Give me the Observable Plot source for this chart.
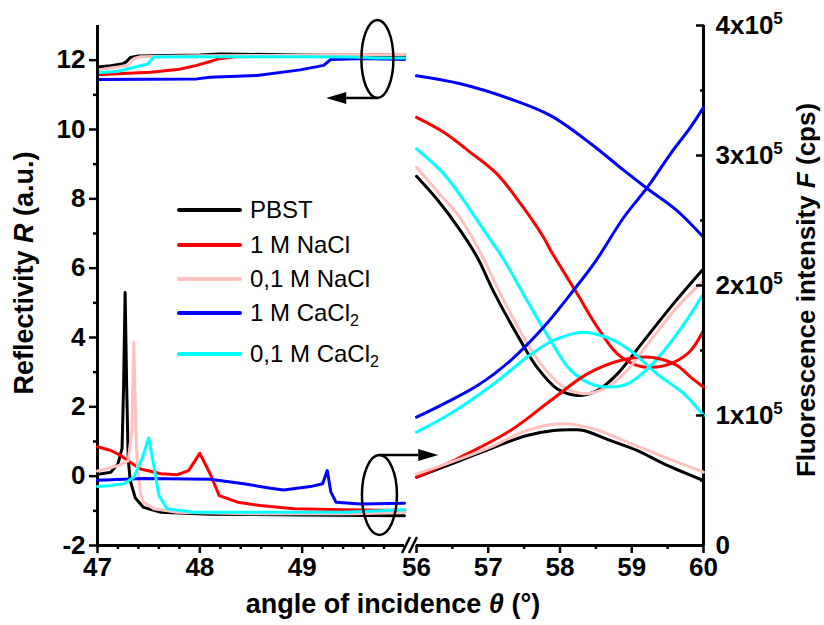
<!DOCTYPE html>
<html><head><meta charset="utf-8">
<script src="https://cdn.jsdelivr.net/npm/d3@7"></script>
<script src="https://cdn.jsdelivr.net/npm/@observablehq/plot@0.6"></script>
<style>
body{margin:0;background:#fff;}
#chart{position:relative;width:824px;height:625px;font-family:"Liberation Sans",Arial,sans-serif;background:#fff;overflow:hidden;}
#chart svg{position:absolute;left:0;top:0;}
.lg-row{position:absolute;left:177px;height:30px;display:flex;align-items:center;font-size:24px;color:#000;white-space:nowrap;}
.lg-sw{width:65px;height:4px;border-radius:2px;margin-right:8px;}
.lg-row sub{font-size:16px;vertical-align:-5px;line-height:0;}
</style></head><body><div id="chart"></div>
<script>
// ---------- series ----------
const seriesNames = ["PBST", "1 M NaCl", "0,1 M NaCl", "1 M CaCl2", "0,1 M CaCl2"];
const seriesLabels = ["PBST", "1 M NaCl", "0,1 M NaCl", "1 M CaCl<sub>2</sub>", "0,1 M CaCl<sub>2</sub>"];
const seriesColors = ["#000000", "#ff0000", "#ffc0c0", "#0000ff", "#00ffff"];

// ---------- ticks ----------
const xTicks = [47, 48, 49, 56, 57, 58, 59, 60];
const xMinorTicks = [47.2, 47.4, 47.6, 47.8, 48.2, 48.4, 48.6, 48.8, 49.2, 49.4, 49.6, 49.8, 56.5, 57.5, 58.5, 59.5];
const rTicks = [-2, 0, 2, 4, 6, 8, 10, 12];
const rMinorTicks = [-1, 1, 3, 5, 7, 9, 11];
const fTicks = [0, 100000, 200000, 300000, 400000];
const fMinorTicks = [50000, 150000, 250000, 350000];
const xBreakDomain = [47, 50, 56, 60];
const axisSegments = [[47, 50], [56, 60]];

// ---------- reflectivity R (a.u.), left panel ----------
const reflLeftPBST = [[47.0,11.8],[47.13,11.84],[47.25,11.9],[47.28,11.95],[47.32,12.08],[47.4,12.12],[48.0,12.15],[48.2,12.18],[49.0,12.15],[50.0,12.12]];
const reflLeftNaCl1 = [[47.0,11.58],[47.3,11.62],[47.52,11.65],[47.8,11.74],[47.97,11.85],[48.1,11.96],[48.17,12.03],[48.35,12.1],[49.0,12.13],[50.0,12.16]];
const reflLeftNaCl01 = [[47.0,11.72],[47.2,11.8],[47.3,11.86],[47.36,12.05],[47.42,12.1],[48.0,12.13],[49.0,12.14],[50.0,12.16]];
const reflLeftCaCl1 = [[47.0,11.44],[47.5,11.45],[47.97,11.46],[48.1,11.51],[48.56,11.56],[48.98,11.72],[49.21,11.85],[49.28,12.02],[49.6,12.05],[50.0,12.02]];
const reflLeftCaCl01 = [[47.0,11.64],[47.2,11.68],[47.49,11.89],[47.55,12.09],[48.0,12.1],[49.0,12.1],[49.5,12.09],[49.7,12.06],[50.0,12.06]];

// ---------- reflectivity R (a.u.), right panel ----------
const reflRightPBST = [[56.0,8.65],[56.3,7.95],[56.6,7.12],[56.85,6.3],[57.08,5.3],[57.45,3.91],[57.68,3.14],[57.96,2.52],[58.24,2.33],[58.52,2.47],[58.8,2.95],[59.17,3.91],[59.54,4.87],[60.0,5.98]];
const reflRightNaCl1 = [[56.0,10.35],[56.38,9.92],[56.75,9.34],[57.12,8.72],[57.45,7.86],[57.77,6.89],[57.87,6.51],[58.24,5.26],[58.52,4.3],[58.8,3.53],[59.08,3.19],[59.31,3.14],[59.59,3.29],[59.82,3.62],[60.0,4.2]];
const reflRightNaCl01 = [[56.0,8.91],[56.3,8.19],[56.6,7.47],[56.9,6.41],[57.17,5.26],[57.52,3.91],[57.75,3.19],[58.05,2.57],[58.33,2.38],[58.61,2.52],[58.89,2.95],[59.26,3.91],[59.63,4.87],[60.0,5.64]];
const reflRightCaCl1 = [[56.0,11.55],[56.61,11.32],[57.31,10.88],[57.87,10.4],[58.43,9.59],[58.89,8.82],[59.22,8.29],[59.63,7.66],[60.0,6.89]];
const reflRightCaCl01 = [[56.0,9.44],[56.38,8.72],[56.66,7.95],[56.94,7.09],[57.2,6.3],[57.54,5.07],[57.87,3.91],[58.15,3.05],[58.43,2.66],[58.7,2.57],[58.94,2.66],[59.17,3.0],[59.45,3.62],[59.73,4.39],[60.0,5.26]];

// ---------- fluorescence F (cps), left panel ----------
const fluorLeftPBST = [[47.0,54700],[47.13,56300],[47.2,62700],[47.24,74700],[47.255,122700],[47.27,194700],[47.285,122700],[47.3,66700],[47.32,49900],[47.37,36500],[47.45,29300],[47.62,25600],[48.1,24000],[49.0,23500],[50.0,22900]];
const fluorLeftNaCl1 = [[47.0,76000],[47.13,73100],[47.225,69300],[47.32,64000],[47.42,58900],[47.62,55200],[47.78,54400],[47.89,57600],[48.0,70900],[48.1,55200],[48.19,38400],[48.37,33300],[48.59,30700],[48.92,28300],[49.41,27500],[50.0,26900]];
const fluorLeftNaCl01 = [[47.0,57300],[47.2,61300],[47.3,65300],[47.335,88000],[47.355,156300],[47.375,88000],[47.39,61300],[47.42,39700],[47.45,33300],[47.55,28300],[47.78,25600],[48.5,24500],[49.5,24500],[50.0,25300]];
const fluorLeftCaCl1 = [[47.0,50100],[47.45,51500],[48.1,50900],[48.43,47500],[48.69,44000],[48.82,42700],[49.08,45300],[49.2,47500],[49.245,57600],[49.28,41300],[49.33,33300],[49.57,32000],[50.0,32500]];
const fluorLeftCaCl01 = [[47.0,45300],[47.13,46100],[47.26,47500],[47.355,52500],[47.436,66700],[47.5,82700],[47.55,61600],[47.6,38400],[47.68,28300],[47.94,25600],[49.41,25600],[50.0,27500]];

// ---------- fluorescence F (cps), right panel ----------
const fluorRightPBST = [[56.0,52500],[56.61,65400],[57.08,75600],[57.54,84600],[57.91,88500],[58.2,89000],[58.33,88500],[58.7,80800],[59.08,73000],[59.45,62800],[60.0,50000]];
const fluorRightNaCl1 = [[56.0,52500],[56.61,67900],[57.31,88500],[57.87,111500],[58.38,132000],[58.84,142300],[59.26,144800],[59.63,138500],[59.82,129500],[60.0,121800]];
const fluorRightNaCl01 = [[56.0,55000],[56.61,66700],[57.08,76900],[57.54,88500],[58.01,93600],[58.47,89700],[58.94,79500],[59.4,69200],[60.0,56400]];
const fluorRightCaCl1 = [[56.0,98700],[56.38,109000],[56.85,123000],[57.31,142300],[57.77,167900],[58.15,193600],[58.5,219000],[58.89,252500],[59.22,275600],[59.54,301300],[59.82,321800],[60.0,337000]];
const fluorRightCaCl01 = [[56.0,87200],[56.47,101300],[57.08,124400],[57.54,144800],[57.91,157700],[58.33,164100],[58.7,159000],[58.98,150000],[59.35,132000],[59.73,116700],[60.0,100000]];

// ---------- annotations (data coordinates) ----------
const ellipseRefl = [49.74, 12.02];     // theta, R
const arrowReflTip = 49.24;             // theta
const ellipseFluor = [49.76, 38500];    // theta, F
const arrowFluorTip = 56.31;            // theta

// ---------- build tables ----------
function rows(list, panel) {
  return list.flatMap((arr, i) => arr.map(([t, v]) => ({theta: t, value: v, series: seriesNames[i], key: seriesNames[i] + panel})));
}
const reflLeft = rows([reflLeftPBST, reflLeftNaCl1, reflLeftNaCl01, reflLeftCaCl1, reflLeftCaCl01], "L");
const reflRight = rows([reflRightPBST, reflRightNaCl1, reflRightNaCl01, reflRightCaCl1, reflRightCaCl01], "R");
const fluorLeft = rows([fluorLeftPBST, fluorLeftNaCl1, fluorLeftNaCl01, fluorLeftCaCl1, fluorLeftCaCl01], "L");
const fluorRight = rows([fluorRightPBST, fluorRightNaCl1, fluorRightNaCl01, fluorRightCaCl1, fluorRightCaCl01], "R");

const W = 824, H = 625, mL = 97, mR = 121, mT = 25, mB = 80;
const FONT = "Liberation Sans, Arial, Helvetica, sans-serif";
const xScale = {type: "linear", domain: xBreakDomain, range: [97, 404, 416, 703]};
const colorScale = {domain: seriesNames, range: seriesColors};
const common = {width: W, height: H, marginLeft: mL, marginRight: mR, marginTop: mT, marginBottom: mB,
  style: {fontFamily: FONT, background: "transparent", color: "black", overflow: "visible"}};
const axisFont = {fontSize: 26, fontWeight: "bold", fontFamily: FONT};

const p1 = Plot.plot({
  ...common,
  x: {...xScale, label: null},
  y: {domain: [-2, 13], range: [H - mB, mT], label: null},
  color: colorScale,
  marks: [
    Plot.line(reflLeft, {x: "theta", y: "value", stroke: "series", z: "key", strokeWidth: 3, curve: "linear"}),
    Plot.line(reflRight, {x: "theta", y: "value", stroke: "series", z: "key", strokeWidth: 3, curve: "catmull-rom"}),
    Plot.ruleX([47, 60], {stroke: "black", strokeWidth: 3}),
    Plot.ruleY(axisSegments, {x1: d => d[0], x2: d => d[1], y: () => -2, stroke: "black", strokeWidth: 3}),
    Plot.axisX({ticks: xTicks, tickSize: 8, tickPadding: 4, strokeWidth: 2.5, tickFormat: d => String(d), label: null, ...axisFont}),
    Plot.axisX({ticks: xMinorTicks, tickSize: 4, strokeWidth: 2.5, fill: "none", label: null}),
    Plot.axisY({anchor: "left", ticks: rTicks, tickSize: 8, tickPadding: 4, strokeWidth: 2.5, tickFormat: d => String(d), label: null, ...axisFont}),
    Plot.axisY({anchor: "left", ticks: rMinorTicks, tickSize: 4, strokeWidth: 2.5, fill: "none", label: null})
  ]
});

const p2 = Plot.plot({
  ...common,
  x: {...xScale, axis: null},
  y: {domain: [0, 400000], range: [H - mB, mT], label: null},
  color: colorScale,
  marks: [
    Plot.line(fluorLeft, {x: "theta", y: "value", stroke: "series", z: "key", strokeWidth: 3, curve: "linear"}),
    Plot.line(fluorRight, {x: "theta", y: "value", stroke: "series", z: "key", strokeWidth: 3, curve: "catmull-rom"}),
    Plot.axisY({anchor: "right", ticks: fTicks, tickSize: -8, tickPadding: 20, strokeWidth: 2.5,
      tickFormat: d => d === 0 ? "0" : `${d / 100000}x10`, label: null, ...axisFont}),
    Plot.axisY({anchor: "right", ticks: fMinorTicks, tickSize: -4, tickPadding: 0, strokeWidth: 2.5, fill: "none", label: null})
  ]
});

const chart = document.getElementById("chart");
chart.appendChild(p1);
chart.appendChild(p2);

// superscript exponent on right-axis labels
d3.select(p2).selectAll("g[aria-label='y-axis tick label'] text").each(function() {
  const t = d3.select(this);
  if (t.text() !== "0") t.append("tspan").attr("dy", "-0.55em").attr("font-size", 17).text("5");
});

// annotations
const sx = p1.scale("x"), sR = p1.scale("y"), sF = p2.scale("y");
const g = d3.select(p2).append("g").attr("fill", "none").attr("stroke", "black").attr("stroke-width", 2.5);
function arrow(x0, x1, y) {
  const dir = Math.sign(x1 - x0), hl = 20, hw = 6;
  g.append("line").attr("x1", x0).attr("y1", y).attr("x2", x1 - dir * hl).attr("y2", y);
  g.append("path").attr("d", `M${x1},${y}L${x1 - dir * hl},${y - hw}L${x1 - dir * hl},${y + hw}Z`).attr("fill", "black").attr("stroke", "none");
}
{
  const cx = sx.apply(ellipseRefl[0]), cy = sR.apply(ellipseRefl[1]);
  g.append("ellipse").attr("cx", cx).attr("cy", cy).attr("rx", 16).attr("ry", 39);
  arrow(cx, sx.apply(arrowReflTip), cy + 39);
}
{
  const cx = sx.apply(ellipseFluor[0]), cy = sF.apply(ellipseFluor[1]);
  g.append("ellipse").attr("cx", cx).attr("cy", cy).attr("rx", 17.5).attr("ry", 40);
  arrow(cx, sx.apply(arrowFluorTip), cy - 40);
}
// axis break marks
{
  const xb = sx.apply(50), yb = sR.apply(-2);
  [xb + 2, xb + 9].forEach(c => g.append("line").attr("x1", c - 4).attr("y1", yb + 8).attr("x2", c + 4).attr("y2", yb - 8).attr("stroke-width", 2.5));
}
// axis titles
const titles = d3.select(p2).append("g").attr("font-family", FONT).attr("font-weight", "bold").attr("fill", "black");
function title(parts, transform, size) {
  const t = titles.append("text").attr("text-anchor", "middle").attr("font-size", size).attr("transform", transform);
  parts.forEach(([s, it]) => t.append("tspan").attr("font-style", it ? "italic" : "normal").text(s));
}
title([["angle of incidence ", 0], ["θ", 1], [" (°)", 0]], `translate(393,613)`, 27);
title([["Reflectivity ", 0], ["R", 1], [" (a.u.)", 0]], `translate(33,273) rotate(-90)`, 27);
title([["Fluorescence intensity ", 0], ["F", 1], [" (cps)", 0]], `translate(815,290) rotate(-90)`, 26);

// legend
const legendY = [210, 245, 279, 313, 354];
seriesNames.forEach((n, i) => {
  const row = document.createElement("div");
  row.className = "lg-row";
  row.style.top = (legendY[i] - 15) + "px";
  row.innerHTML = `<div class="lg-sw" style="background:${seriesColors[i]}"></div><span>${seriesLabels[i]}</span>`;
  chart.appendChild(row);
});
</script></body></html>
